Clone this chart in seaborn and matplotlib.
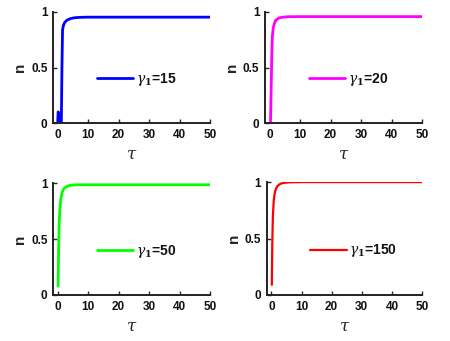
import matplotlib
matplotlib.use("Agg")
import matplotlib.pyplot as plt
import seaborn as sns
import pandas as pd

sns.set_style("ticks")
plt.rcParams['font.family'] = ['Liberation Sans', 'DejaVu Sans']
plt.rcParams['mathtext.fontset'] = 'dejavuserif'

# data
tau_15 = [0, 0.15, 0.25, 0.35, 0.5, 0.9, 1.2, 1.4, 1.6, 1.9, 2.3, 3, 4, 5, 6, 8, 10, 20, 50]
n_15 = [0, 0.10, 0.10, 0.0, 0.0, 0.0, 0.0, 0.5, 0.84, 0.88, 0.905, 0.925, 0.938, 0.945, 0.949, 0.952, 0.953, 0.953, 0.953]

tau_20 = [0.3, 0.5, 0.7, 0.9, 1.2, 1.6, 2, 3, 4, 6, 10, 50]
n_20 = [0.02, 0.3, 0.6, 0.78, 0.86, 0.9, 0.925, 0.945, 0.952, 0.957, 0.958, 0.958]

tau_50 = [0.15, 0.3, 0.5, 0.8, 1.1, 1.5, 2, 3, 4, 6, 10, 50]
n_50 = [0.08, 0.4, 0.65, 0.8, 0.87, 0.92, 0.95, 0.97, 0.98, 0.985, 0.985, 0.985]

tau_150 = [0.15, 0.3, 0.5, 0.8, 1.1, 1.5, 2, 3, 4, 6, 10, 50]
n_150 = [0.09, 0.45, 0.7, 0.84, 0.9, 0.94, 0.965, 0.985, 0.993, 0.998, 1.0, 1.0]

labels = ["15", "20", "50", "150"]
colors = ["#0000FF", "#FF00FF", "#00FF00", "#FF0000"]
widths = [2.0, 2.0, 2.0, 1.6]
series = [(tau_15, n_15), (tau_20, n_20), (tau_50, n_50), (tau_150, n_150)]
xticks = [0, 10, 20, 30, 40, 50]
yticks = [0, 0.5, 1]
ytick_labels = ["0", "0.5", "1"]

fig = plt.figure(figsize=(4.5, 3.41), dpi=100)
positions = [
    [0.118, 0.639, 0.349, 0.326],
    [0.589, 0.639, 0.349, 0.326],
    [0.118, 0.135, 0.349, 0.328],
    [0.593, 0.135, 0.345, 0.331],
]

for pos, (t, n), lab, col, lw in zip(positions, series, labels, colors, widths):
    ax = fig.add_axes(pos)
    df = pd.DataFrame({"tau": t, "n": n})
    sns.lineplot(data=df, x="tau", y="n", ax=ax, color=col, linewidth=lw,
                 label=r"$\gamma_{\mathbf{1}}$=" + lab)
    ax.set_xlim(-1.5, 50)
    ax.set_ylim(0, 1)
    ax.set_xticks(xticks)
    ax.set_yticks(yticks)
    ax.set_yticklabels(ytick_labels)
    ax.tick_params(direction="in", length=3, width=1, labelsize=8.5, pad=4,
                   labelcolor="#111111")
    for lbl in ax.get_xticklabels() + ax.get_yticklabels():
        lbl.set_fontweight("bold")
    for s in ["top", "right"]:
        ax.spines[s].set_visible(False)
    for s in ["left", "bottom"]:
        ax.spines[s].set_linewidth(1.4)
        ax.spines[s].set_color("#222222")
    ax.set_xlabel(r"$\tau$", fontsize=12, labelpad=4)
    ax.set_ylabel("n", fontsize=11, fontweight="bold", labelpad=3)
    leg = ax.legend(frameon=False, loc="center left", bbox_to_anchor=(0.2, 0.39),
                    handlelength=2.6, handletextpad=0.2,
                    prop={"weight": "bold", "size": 10})
    for txt in leg.get_texts():
        txt.set_color("#111111")

fig.savefig("out.png", dpi=100)
